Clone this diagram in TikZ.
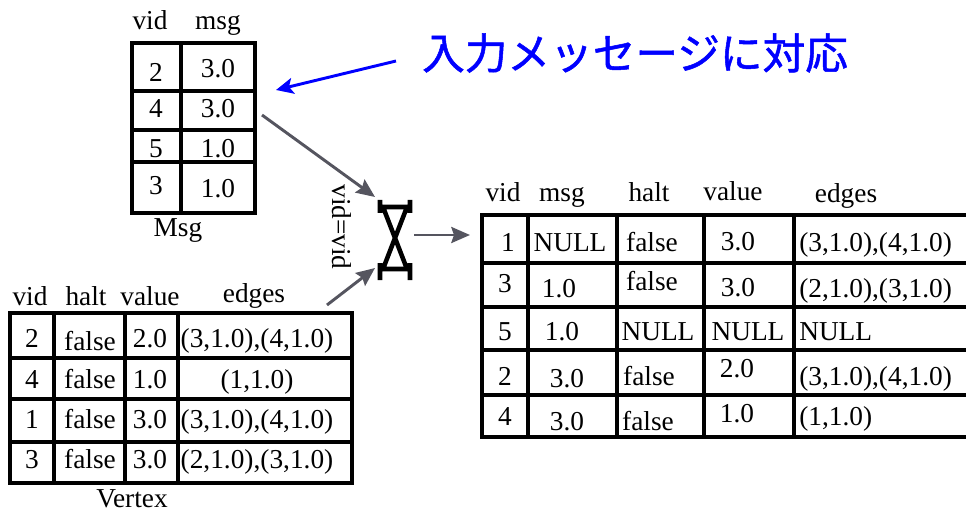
\documentclass[tikz,border=0pt]{standalone}
\usepackage{fontspec}
\setmainfont{Liberation Serif}
\newfontfamily\jpfont[FakeBold=1.2]{Noto Sans CJK JP}
\usetikzlibrary{arrows.meta, positioning}
\definecolor{arrowgray}{RGB}{85,85,95}
\tikzset{
    font=\fontsize{20.5}{24}\selectfont,
    >=Stealth,
    % Lines
    tbl/.style={line width=2.6pt, black, line cap=rect},
    joinline/.style={line width=3.4pt, black},
    % Text
    cell/.style={anchor=base, inner sep=0pt},
    lcell/.style={anchor=base west, inner sep=0pt},
    % Flow
    flow/.style={-{Stealth[length=14pt, width=12pt, inset=2pt]}, line width=2.2pt, draw=arrowgray},
    note/.style={-{Stealth[length=13pt, width=12pt, inset=3pt]}, line width=2.2pt, draw=blue}
}
\begin{document}
\begin{tikzpicture}[x=0.75pt, y=-0.75pt]
\useasboundingbox (0,0) rectangle (966,513);

% Msg table
\draw[tbl] (132,43) rectangle (255,213);
\draw[tbl] (181,43) -- (181,213);
\foreach \y in {91,130,162} \draw[tbl] (132,\y) -- (255,\y);
\node[cell] (msghv) at (150,30) {vid};
\node[cell] (msghm) at (218,30) {msg};
\foreach \v/\m/\yv/\ym in {2/3.0/82/78, 4/3.0/118/118, 5/1.0/158/158, 3/1.0/195/198} {
    \node[cell] (msgv\v) at (156,\yv) {\v};
    \node[cell] (msgm\v) at (218,\ym) {\m};
}
\node[cell] (msgname) at (178,237) {Msg};

% Vertex table
\draw[tbl] (10,313) rectangle (352,483);
\foreach \x in {54,125,178} \draw[tbl] (\x,313) -- (\x,483);
\foreach \y in {358,399,442} \draw[tbl] (10,\y) -- (352,\y);
\node[cell] (vhv) at (30,305) {vid};
\node[cell] (vhh) at (86,305) {halt};
\node[cell] (vhval) at (150,305) {value};
\node[cell] (vhe) at (254,302) {edges};
\foreach \v/\h/\val/\e/\y in {2/350/2.0/{(3,1.0),(4,1.0)}/347, 4/388/1.0/{(1,1.0)}/388,
                              1/428/3.0/{(3,1.0),(4,1.0)}/428, 3/468/3.0/{(2,1.0),(3,1.0)}/468} {
    \node[cell] (vv\v) at (32,\y) {\v};
    \node[cell] (vh\v) at (90,\h) {false};
    \node[cell] (vval\v) at (150,\y) {\val};
    \node[cell] (ve\v) at (257,\y) {\e};
}
\node[cell] (vname) at (132,507) {Vertex};

% Result table
\draw[tbl] (970,215) -- (482,215) -- (482,437) -- (970,437);
\foreach \x in {528,617,704,794} \draw[tbl] (\x,215) -- (\x,437);
\foreach \y in {263,307,350,395} \draw[tbl] (482,\y) -- (970,\y);
\node[cell] (rhv) at (503,202) {vid};
\node[cell] (rhm) at (562,202) {msg};
\node[cell] (rhh) at (649,202) {halt};
\node[cell] (rhval) at (733,200) {value};
\node[cell] (rhe) at (846,203) {edges};
\foreach \v/\xv/\yv/\m/\xm/\ym/\h/\xh/\yh/\val/\xval/\yval/\e/\ye in {
    1/508/252/NULL/570/252/false/652/252/3.0/738/250/{(3,1.0),(4,1.0)}/252,
    3/505/292/1.0/559/297/false/652/290/3.0/738/296/{(2,1.0),(3,1.0)}/297,
    5/505/340/1.0/562/340/NULL/658/340/NULL/748/340/NULL/340,
    2/505/385/3.0/567/387/false/649/385/2.0/737/377/{(3,1.0),(4,1.0)}/385,
    4/505/425/3.0/567/430/false/648/430/1.0/737/422/{(1,1.0)}/425} {
    \node[cell] (rv\v) at (\xv,\yv) {\v};
    \node[cell] (rm\v) at (\xm,\ym) {\m};
    \node[cell] (rh\v) at (\xh,\yh) {\h};
    \node[cell] (rval\v) at (\xval,\yval) {\val};
    \node[lcell] (re\v) at (799,\ye) {\e};
}

% Join
\coordinate (join) at (395,240);
\draw[joinline] (380,200) -- (380,213) (410,200) -- (410,213) (378,207) -- (412,207)
    (383,207) -- (407,269) (407,207) -- (383,269)
    (378,269) -- (412,269) (380,263) -- (380,280) (410,263) -- (410,280);
\node[cell, anchor=center, rotate=-90] (cond) at (342,227) {vid=vid};

% Arrows
\coordinate (msgout) at (262,115);
\coordinate (joinin1) at (375,197);
\coordinate (vout) at (327,305);
\coordinate (joinin2) at (375,268);
\coordinate (joinout) at (414,235);
\coordinate (resin) at (470,235);
\draw[flow] (msgout) -- (joinin1);
\draw[flow] (vout) -- (joinin2);
\draw[flow] (joinout) -- (resin);

% Note
\node[font=\jpfont\fontsize{32}{36}\selectfont, text=blue, inner sep=0pt] (caption) at (635,53) {入力メッセージに対応};
\coordinate (notetip) at (276,90);
\draw[note] (396,61) -- (notetip);
\end{tikzpicture}
\end{document}
